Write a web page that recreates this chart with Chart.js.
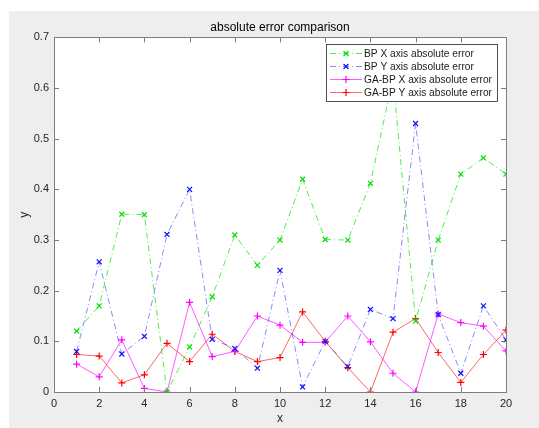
<!DOCTYPE html>
<html>
<head>
<meta charset="utf-8">
<script src="https://cdn.jsdelivr.net/npm/chart.js@4/dist/chart.umd.min.js"></script>
<style>
  html, body { margin: 0; padding: 0; background: #fff; }
  #wrap { width: 539px; height: 428px; }
</style>
</head>
<body>
<div id="wrap"><canvas id="mainChart" width="539" height="428"></canvas></div>
<script>
// Data
const xValues = [1, 2, 3, 4, 5, 6, 7, 8, 9, 10, 11, 12, 13, 14, 15, 16, 17, 18, 19, 20];
const bpX = [0.12, 0.17, 0.351, 0.35, 0.0, 0.089, 0.188, 0.31, 0.25, 0.30, 0.42, 0.301, 0.30, 0.412, 0.62, 0.14, 0.30, 0.43, 0.462, 0.43];
const bpY = [0.08, 0.257, 0.075, 0.11, 0.311, 0.40, 0.104, 0.086, 0.047, 0.24, 0.01, 0.10, 0.05, 0.163, 0.145, 0.53, 0.153, 0.037, 0.17, 0.103];
const gaX = [0.055, 0.03, 0.103, 0.007, 0.0, 0.177, 0.07, 0.08, 0.15, 0.132, 0.098, 0.098, 0.15, 0.099, 0.037, 0.0, 0.154, 0.137, 0.13, 0.081];
const gaY = [0.074, 0.071, 0.018, 0.034, 0.096, 0.06, 0.114, 0.08, 0.06, 0.068, 0.158, 0.10, 0.048, 0.0, 0.118, 0.145, 0.078, 0.019, 0.074, 0.122];
const seriesNames = ['BP X axis absolute error', 'BP Y axis absolute error', 'GA-BP X axis absolute error', 'GA-BP Y axis absolute error'];
const xTicks = [0, 2, 4, 6, 8, 10, 12, 14, 16, 18, 20];
const yTicks = [0, 0.1, 0.2, 0.3, 0.4, 0.5, 0.6, 0.7];
const yTickLabels = ['0', '0.1', '0.2', '0.3', '0.4', '0.5', '0.6', '0.7'];

const FONT = '"Liberation Sans", Arial, Helvetica, sans-serif';
const AXIS_COLOR = '#7d7d7d';
const DASH_DOT = [6, 3, 1, 3];

function toPoints(arr) {
    return xValues.map((x, i) => ({ x: x, y: arr[i] }));
}

function makeSet(label, values, lineColor, pointColor, style, dashed) {
    return {
        label: label,
        data: toPoints(values),
        borderColor: lineColor,
        borderWidth: 1,
        borderDash: dashed ? DASH_DOT : [],
        pointStyle: style,
        pointRadius: 3.5,
        pointBorderColor: pointColor,
        pointBackgroundColor: pointColor,
        pointBorderWidth: 1.2,
        tension: 0,
        fill: false
    };
}

const datasets = [
    makeSet(seriesNames[0], bpX, 'rgba(0,230,0,0.7)', '#00e000', 'crossRot', true),
    makeSet(seriesNames[1], bpY, 'rgba(40,40,255,0.55)', '#1010ff', 'crossRot', true),
    makeSet(seriesNames[2], gaX, 'rgba(255,0,255,0.65)', '#ff00ff', 'cross', false),
    makeSet(seriesNames[3], gaY, 'rgba(255,0,0,0.6)', '#ff0000', 'cross', false)
];

// Grey figure background + white axes area
const backgroundPlugin = {
    id: 'figBackground',
    beforeDraw(chart) {
        const ctx = chart.ctx;
        const a = chart.chartArea;
        ctx.save();
        ctx.fillStyle = '#ffffff';
        ctx.fillRect(0, 0, chart.width, chart.height);
        ctx.fillStyle = '#eeeeee';
        ctx.fillRect(9, 11, chart.width - 9, chart.height - 11);
        ctx.fillStyle = '#ffffff';
        ctx.fillRect(a.left, a.top, a.right - a.left, a.bottom - a.top);
        ctx.restore();
    }
};

// MATLAB-like box with inward ticks, plus the legend
const boxPlugin = {
    id: 'axesBox',
    afterDatasetsDraw(chart) {
        const ctx = chart.ctx;
        const a = chart.chartArea;
        const xs = chart.scales.x;
        const ys = chart.scales.y;
        ctx.save();
        ctx.strokeStyle = AXIS_COLOR;
        ctx.lineWidth = 1;
        ctx.strokeRect(Math.round(a.left) + 0.5, Math.round(a.top) + 0.5,
            Math.round(a.right - a.left), Math.round(a.bottom - a.top));
        const len = 5;
        ctx.beginPath();
        xTicks.forEach(v => {
            const px = Math.round(xs.getPixelForValue(v)) + 0.5;
            ctx.moveTo(px, a.bottom);
            ctx.lineTo(px, a.bottom - len);
            ctx.moveTo(px, a.top);
            ctx.lineTo(px, a.top + len);
        });
        yTicks.forEach(v => {
            const py = Math.round(ys.getPixelForValue(v)) + 0.5;
            ctx.moveTo(a.left, py);
            ctx.lineTo(a.left + len, py);
            ctx.moveTo(a.right, py);
            ctx.lineTo(a.right - len, py);
        });
        ctx.stroke();

        // legend
        const lx = 326, ly = 44, lw = 171, lh = 57;
        ctx.fillStyle = '#ffffff';
        ctx.fillRect(lx, ly, lw, lh);
        ctx.strokeStyle = '#262626';
        ctx.lineWidth = 0.8;
        ctx.strokeRect(lx + 0.5, ly + 0.5, lw, lh);
        chart.data.datasets.forEach((ds, i) => {
            const rowY = ly + 9.5 + i * 13;
            ctx.strokeStyle = ds.borderColor;
            ctx.lineWidth = 1;
            ctx.setLineDash(ds.borderDash);
            ctx.beginPath();
            ctx.moveTo(lx + 4, rowY);
            ctx.lineTo(lx + 36, rowY);
            ctx.stroke();
            ctx.setLineDash([]);
            ctx.strokeStyle = ds.pointBorderColor;
            ctx.lineWidth = 1.2;
            ctx.beginPath();
            if (ds.pointStyle === 'cross') {
                ctx.moveTo(lx + 16.5, rowY); ctx.lineTo(lx + 23.5, rowY);
                ctx.moveTo(lx + 20, rowY - 3.5); ctx.lineTo(lx + 20, rowY + 3.5);
            } else {
                ctx.moveTo(lx + 17.5, rowY - 2.5); ctx.lineTo(lx + 22.5, rowY + 2.5);
                ctx.moveTo(lx + 22.5, rowY - 2.5); ctx.lineTo(lx + 17.5, rowY + 2.5);
            }
            ctx.stroke();
            ctx.fillStyle = '#1a1a1a';
            ctx.font = '10.2px ' + FONT;
            ctx.textBaseline = 'middle';
            ctx.textAlign = 'left';
            ctx.fillText(ds.label, lx + 38, rowY + 0.5);
        });
        ctx.restore();
    }
};

const ctx = document.getElementById('mainChart').getContext('2d');
const chart = new Chart(ctx, {
    type: 'line',
    data: { datasets: datasets },
    options: {
        responsive: false,
        animation: false,
        layout: { padding: { top: 20, right: 33, bottom: 0, left: 0 } },
        plugins: {
            legend: { display: false },
            tooltip: { enabled: false },
            title: {
                display: true,
                fullSize: false,
                text: 'absolute error comparison',
                color: '#000000',
                font: { family: FONT, size: 12, weight: 'normal' },
                padding: { top: 0, bottom: 3 }
            }
        },
        scales: {
            x: {
                type: 'linear',
                min: 0,
                max: 20,
                afterBuildTicks(scale) { scale.ticks = xTicks.map(v => ({ value: v })); },
                afterFit(scale) { scale.height = 36; },
                grid: { display: false, drawTicks: false },
                border: { display: false },
                ticks: {
                    color: '#262626',
                    font: { family: FONT, size: 11 },
                    padding: 5,
                    maxRotation: 0,
                    callback: v => String(v)
                },
                title: {
                    display: true,
                    text: 'x',
                    color: '#262626',
                    font: { family: FONT, size: 12 },
                    padding: { top: 0, bottom: 2 }
                }
            },
            y: {
                type: 'linear',
                min: 0,
                max: 0.7,
                afterBuildTicks(scale) { scale.ticks = yTicks.map(v => ({ value: v })); },
                afterFit(scale) { scale.width = 54; },
                grid: { display: false, drawTicks: false },
                border: { display: false },
                ticks: {
                    color: '#262626',
                    font: { family: FONT, size: 11 },
                    padding: 5,
                    callback: (v) => {
                        const i = yTicks.findIndex(t => Math.abs(t - v) < 1e-9);
                        return i >= 0 ? yTickLabels[i] : '';
                    }
                },
                title: {
                    display: true,
                    text: 'y',
                    color: '#262626',
                    font: { family: FONT, size: 12 },
                    padding: { top: 17, bottom: 0 }
                }
            }
        }
    },
    plugins: [backgroundPlugin, boxPlugin]
});
</script>
</body>
</html>
